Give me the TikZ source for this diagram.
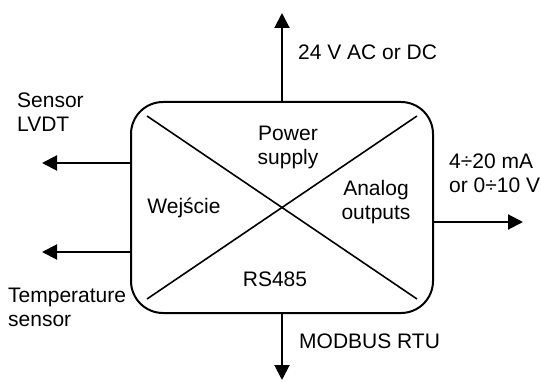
\documentclass[tikz,border=0pt]{standalone}
\usepackage{fontspec}
\setmainfont{Liberation Sans}
\usetikzlibrary{arrows.meta,positioning,calc}

\begin{document}
\begin{tikzpicture}[x=1pt, y=-1pt, font=\fontsize{21}{24}\selectfont,
  >={Triangle[length=15pt,width=15pt]},
  blk/.style={rectangle, rounded corners=32pt, draw, line width=2pt,
    minimum width=302pt, minimum height=211pt, inner sep=0},
  sig/.style={->, line width=2pt},
  lbl/.style={inner sep=0, align=left, anchor=base west},
  mid/.style={inner sep=0, align=center, anchor=base}]
  \useasboundingbox (0,0) rectangle (541,382);
  \node[blk] (box) at (282,207.5) {};
  % cross inside the block
  \draw[line width=1.6pt] ($(box.north west)+(17,15)$) -- ($(box.south east)+(-17,-15)$);
  \draw[line width=1.6pt] ($(box.south west)+(17,-15)$) -- ($(box.north east)+(-17,15)$);
  \node[mid] (pwr) at (288,165) {Power\\supply};
  \node[mid] (ana) at (376,220) {Analog\\outputs};
  \node[mid] (wej) at (184,214) {Wejście};
  \node[mid] (rs) at (275,287) {RS485};
  % connectors
  \coordinate (up) at (282,13);
  \coordinate (dn) at (282,380);
  \coordinate (lvdt) at (42,163);
  \coordinate (temp) at (42,252);
  \coordinate (aout) at (523,222);
  \draw[sig] (box.north) -- (up);
  \draw[sig] (box.south) -- (dn);
  \draw[sig] (lvdt -| box.west) -- (lvdt);
  \draw[sig] (temp -| box.west) -- (temp);
  \draw[sig] (aout -| box.east) -- (aout);
  \node[lbl] (vac) at (298,60) {24 V AC or DC};
  \node[lbl] (sl) at (17,132) {Sensor\\LVDT};
  \node[lbl] (ts) at (8,326) {Temperature\\sensor};
  \node[lbl] (ma) at (449,193) {4÷20 mA\\or 0÷10 V};
  \node[lbl] (mb) at (299,348) {MODBUS RTU};
\end{tikzpicture}
\end{document}
